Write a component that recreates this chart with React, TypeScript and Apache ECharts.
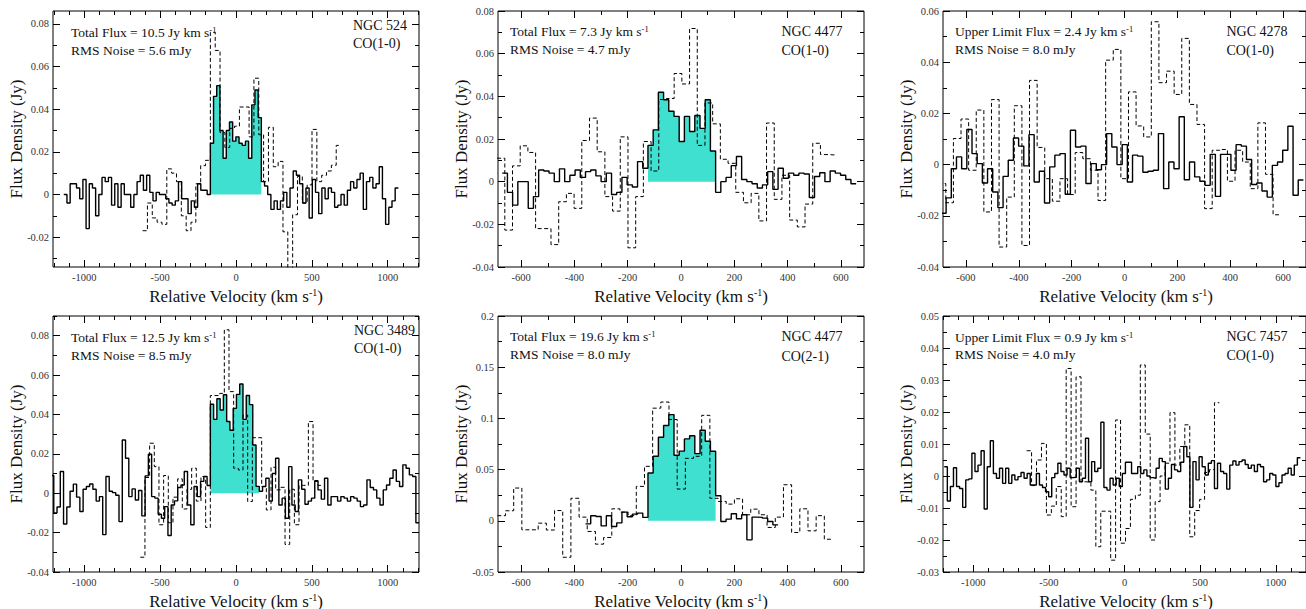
import React, { useEffect, useRef } from 'react';
import * as echarts from 'echarts';

const FONT = '"Liberation Serif", "Times New Roman", Times, serif';

// ---------- Panel 1: NGC 524 CO(1-0) ----------
const ngc524SolidStart = -1124.5;
const ngc524SolidWidth = 21;
const ngc524Solid = [
  0.000, -0.004, 0.005, 0.005, 0.003, -0.002, 0.007, -0.016, 0.005, 0.003, -0.010, 0.000, 0.008, 0.006, 0.008, -0.005,
  0.005, -0.006, 0.005, 0.000, 0.000, -0.006, 0.000, 0.006, 0.009, 0.002, 0.009, 0.001, -0.003, 0.001, 0.000, 0.000,
  -0.002, -0.004, -0.005, -0.003, 0.006, -0.002, -0.002, -0.009, -0.003, -0.006, 0.005, 0.002, 0.002, 0.000,
  0.024, 0.046, 0.051, 0.030, 0.017, 0.030, 0.034, 0.025, 0.027, 0.024, 0.023, 0.025, 0.017, 0.042, 0.049, 0.036,
  0.006, 0.004, 0.000, -0.007, -0.003, -0.007, -0.003, 0.001, -0.006, 0.003, 0.011, 0.009, 0.005, -0.004, 0.003,
  -0.011, 0.007, 0.001, -0.009, 0.003, -0.002, 0.003, 0.001, -0.006, -0.005, 0.000, -0.005, 0.002, 0.006, 0.003,
  0.007, 0.010, -0.007, 0.006, 0.008, 0.003, 0.005, 0.013, -0.002, -0.014, -0.006, -0.003, 0.003,
];
const ngc524DashStart = -599.6;
const ngc524DashWidth = 31.9;
const ngc524Dash = [
  -0.017, -0.004, -0.011, -0.013, -0.014, 0.012, 0.010, 0.006, -0.010, -0.017, -0.013, 0.005, 0.0135, 0.016,
  0.076, 0.0675, 0.029, 0.022, 0.031, 0.032, 0.041, 0.041, 0.027, 0.0545, 0.028, 0.006, 0.0315, 0.013, 0.0155,
  -0.0175, -0.036, -0.0095, 0.0085, -0.004, 0.0045, 0.0305, 0.006, 0.009, 0.011, 0.0137, 0.023,
];
const ngc524Window = [-169, 168];

// ---------- Panel 2: NGC 4477 CO(1-0) ----------
const ngc4477aSolidStart = -661.4;
const ngc4477aSolidWidth = 19.54;
const ngc4477aSolid = [
  0.004, -0.005, -0.011, 0.000, 0.000, -0.0125, -0.007, 0.0055, 0.005, 0.004, 0.000, 0.006, 0.000, 0.003,
  0.0055, 0.002, 0.0047, 0.0055, 0.0027, 0.000, 0.004, -0.006, -0.005, 0.002, -0.0015, -0.0025, 0.0094, 0.0063,
  0.017, 0.0243, 0.0419, 0.0384, 0.033, 0.0306, 0.0188, 0.0306, 0.0235, 0.031, 0.025, 0.0384, 0.0144,
  -0.005, 0.000, 0.002, 0.0075, 0.0118, 0.001, 0.000, -0.001, -0.003, -0.0015, 0.0047, -0.0036, 0.0063, 0.0016,
  0.004, 0.003, 0.004, 0.0036, -0.0074, 0.0024, 0.0042, 0.000, 0.005, 0.004, 0.003, 0.001, -0.001,
];
const ngc4477aDashStart = -675.9;
const ngc4477aDashWidth = 28.9;
const ngc4477aDash = [
  0.011, -0.0227, 0.0074, 0.0168, 0.0137, -0.022, -0.022, -0.0295, -0.0094, -0.0055, -0.0125, 0.0193, 0.0298,
  0.014, -0.007, -0.0138, 0.021, -0.031, -0.007, 0.0188, 0.005, 0.0385, 0.039, 0.0507, 0.0458, 0.0718, 0.017,
  0.0369, 0.0271, 0.0105, 0.0086, -0.005, -0.0099, -0.0055, -0.0184, 0.0275, -0.0083, 0.003, -0.018, -0.0212,
  -0.0105, 0.018, 0.0127, 0.0125,
];
const ngc4477aWindow = [-124, 130];

// ---------- Panel 3: NGC 4278 CO(1-0) ----------
const ngc4278SolidStart = -685;
const ngc4278SolidWidth = 19.6;
const ngc4278Solid = [
  -0.019, -0.013, -0.0016, 0.003, -0.0016, 0.0137, 0.0043, 0.0004, -0.0072, -0.0016, -0.0107, -0.0168, -0.0046,
  0.0017, 0.0104, 0.0072, -0.0005, 0.0117, -0.0068, -0.0026, -0.015, -0.0009, 0.0037, 0.0043, -0.0116, 0.0134,
  0.0069, 0.0072, -0.0074, 0.0004, -0.002, 0.0, 0.0121, 0.0069, 0.0, 0.0078, -0.0068, 0.0037, 0.0033, -0.003,
  -0.0026, -0.0022, 0.0121, -0.0094, 0.001, -0.0016, 0.0187, -0.0059, 0.001, -0.0048, -0.0065, -0.0081, 0.004,
  -0.0124, 0.004, 0.004, -0.0022, 0.0078, 0.0072, 0.002, -0.0078, -0.0072, -0.0103, -0.0127, -0.0003, 0.001,
  0.0056, 0.015, -0.012, -0.006,
];
const ngc4278DashStart = -690.8;
const ngc4278DashWidth = 28.81;
const ngc4278Dash = [
  -0.0074, -0.0149, 0.0102, 0.0178, -0.0022, 0.0213, -0.0185, 0.0254, -0.0322, -0.0127, 0.023, -0.0316, 0.0329,
  0.0067, -0.0055, -0.0143, -0.0055, -0.0117, 0.0047, 0.0023, -0.0022, -0.014, 0.0408, 0.045, -0.0055, 0.0284,
  0.0151, 0.0108, 0.0558, 0.032, 0.0365, 0.0274, 0.0493, 0.0235, 0.0157, -0.0172, 0.0056, 0.0059, -0.0065,
  0.0056, 0.001, -0.0094, 0.0163, -0.0038, -0.0196,
];

// ---------- Panel 4: NGC 3489 CO(1-0) ----------
const ngc3489SolidStart = -1211.75;
const ngc3489SolidWidth = 21.5;
const ngc3489Solid = [
  0.009, -0.010, -0.007, 0.011, -0.0156, -0.007, 0.001, 0.0046, -0.002, -0.0093, 0.002, 0.0034, 0.0047, 0.002,
  -0.004, -0.0017, -0.021, 0.0085, 0.001, 0.0003, -0.001, -0.0144, 0.027, 0.0178, -0.0017, 0.0022, -0.0034,
  0.0014, -0.0115, 0.0088, 0.0198, -0.0017, -0.0025, -0.0107, -0.0127, -0.0068, -0.0215, -0.006, -0.0039,
  0.0029, 0.0042, 0.011, -0.006, -0.016, 0.0034, -0.0017, 0.006, 0.0085, 0.0039,
  0.0452, 0.0375, 0.048, 0.0423, 0.050, 0.0364, 0.032, 0.0431, 0.0502, 0.0555, 0.0375, 0.0496, 0.045, 0.0245, 0.0035,
  0.001, 0.0034, 0.0076, -0.004, 0.010, 0.0178, -0.006, -0.0025, -0.0127, 0.0135, -0.006, -0.0093, 0.0068, 0.002,
  -0.0056, -0.004, -0.0025, 0.0063, 0.0017, -0.003, 0.0076, -0.006, -0.0017, -0.0017, -0.004, -0.0017, -0.0025,
  -0.004, -0.0017, -0.0025, -0.004, -0.0068, -0.006, 0.0068, 0.0029, 0.0017, -0.0025, -0.006, 0.0017, 0.0042,
  0.0076, 0.0118, 0.006, 0.0034, 0.0144, 0.0127, 0.0093, 0.0085, -0.015,
];
const ngc3489DashStart = -615.4;
const ngc3489DashWidth = 30.77;
const ngc3489Dash = [
  -0.0325, 0.008, 0.0254, 0.0135, -0.016, 0.009, -0.015, -0.002, 0.0073, -0.008, 0.002, 0.0127, -0.004, 0.0085,
  -0.0174, 0.0496, 0.0496, 0.0507, 0.083, 0.0516, 0.0127, 0.0118, 0.0397, -0.0042, 0.0282, 0.0282, 0.0034,
  -0.0085, 0.0132, 0.0017, 0.003, -0.026, 0.002, -0.016, 0.004, 0.004, 0.0364, 0.006, 0.004,
];
const ngc3489Window = [-169, 154];

// ---------- Panel 5: NGC 4477 CO(2-1) ----------
const ngc4477bSolidStart = -348.7;
const ngc4477bSolidWidth = 19.54;
const ngc4477bSolid = [
  -0.003, 0.005, 0.0042, -0.005, 0.005, -0.0055, -0.002, 0.0085, 0.004, 0.0065, 0.0075, 0.0033,
  0.0467, 0.063, 0.0816, 0.093, 0.1037, 0.064, 0.068, 0.080, 0.083, 0.0656, 0.0884, 0.0777, 0.0679,
  0.0245, -0.0007, 0.0016, 0.0069, 0.002, 0.0059, -0.0186, 0.0036, 0.0033, 0.0026, -0.0007, -0.004,
];
const ngc4477bDashStart = -674.2;
const ngc4477bDashWidth = 30.69;
const ngc4477bDash = [
  0.005, 0.0098, 0.032, -0.0088, -0.0088, -0.0023, -0.009, 0.010, -0.0356, 0.022, 0.0036, -0.0104, -0.0228,
  -0.0163, 0.0117, 0.0085, 0.005, 0.0336, 0.0532, 0.110, 0.116, 0.0989, 0.031, 0.061, 0.063, 0.103, 0.022,
  0.0189, 0.0163, 0.0215, 0.0059, 0.0114, 0.0059, -0.0065, 0.0036, 0.0352, -0.0114, 0.0117, -0.0098, 0.005, -0.018,
];
const ngc4477bWindow = [-124, 130];

// ---------- Panel 6: NGC 7457 CO(1-0) ----------
const ngc7457SolidStart = -1181.5;
const ngc7457SolidWidth = 20.3;
const ngc7457Solid = [
  0.0029, -0.0078, -0.0033, 0.0026, -0.0033, -0.0039, -0.0098, -0.0012, -0.0009, 0.0071, 0.0014, 0.0034, 0.0079,
  -0.0103, 0.0029, 0.011, 0.0008, -0.0007, 0.0024, -0.0023, 0.0024, -0.0023, 0.0003, -0.0012, -0.0002, 0.0011,
  -0.0007, 0.0008, -0.0028, -0.0028, 0.0008, -0.0028, -0.0036, -0.0049, -0.0065, -0.0005, 0.0008, 0.004, 0.0014,
  0.0003, 0.0024, -0.0005, -0.0004, 0.0024, -0.0018, -0.0007, 0.0118, -0.0018, 0.0045, 0.0014, 0.0024, 0.0168,
  -0.0036, -0.0044, -0.0007, -0.0028, -0.0007, -0.0033, 0.0008, 0.0043, 0.0043, 0.0008, 0.0008, 0.0029, 0.0008,
  0.0019, 0.0, -0.0005, -0.0007, 0.0024, 0.0055, 0.0045, -0.0041, -0.0007, 0.0036, 0.0019, 0.0014, 0.0043, 0.0092,
  0.006, -0.0098, 0.0045, -0.0012, 0.006, 0.0029, 0.0003, 0.004, 0.0048, -0.0039, 0.004, 0.0014, 0.0008, -0.0041,
  0.0034, 0.0047, 0.0034, 0.0045, 0.005, 0.0036, 0.0024, 0.0034, 0.0014, 0.0036, 0.0029, -0.0018, -0.0012, 0.0008,
  0.0003, -0.0033, -0.0021, 0.0003, 0.0008, 0.0024, 0.0003, 0.0034, 0.0057,
];
const ngc7457DashStart = -630.7;
const ngc7457DashWidth = 32.68;
const ngc7457Dash = [
  0.0079, -0.003, 0.005, 0.0102, -0.0122, -0.0094, -0.0033, -0.0127, 0.0336, -0.0096, 0.031, -0.0018, -0.002,
  -0.0044, -0.0221, -0.011, -0.011, -0.0263, 0.0175, -0.021, -0.0164, -0.0073, -0.006, 0.0347, 0.0131, -0.02,
  -0.008, 0.0, 0.004, 0.0198, 0.0034, 0.0092, 0.016, -0.019, -0.0108, -0.0073, 0.0011, 0.002, 0.0229,
];

// ---------- tick labels ----------
const xTicksWide = [-1000, -500, 0, 500, 1000];
const xTicksNarrow = [-600, -400, -200, 0, 200, 400, 600];
const yTicks524 = [-0.02, 0, 0.02, 0.04, 0.06, 0.08];
const yTicks4477a = [-0.04, -0.02, 0, 0.02, 0.04, 0.06, 0.08];
const yTicks4278 = [-0.04, -0.02, 0, 0.02, 0.04, 0.06];
const yTicks3489 = [-0.04, -0.02, 0, 0.02, 0.04, 0.06, 0.08];
const yTicks4477b = [-0.05, 0, 0.05, 0.1, 0.15, 0.2];
const yTicks7457 = [-0.03, -0.02, -0.01, 0, 0.01, 0.02, 0.03, 0.04, 0.05];

// ---------- texts ----------
const fluxTexts = [
  'Total Flux = 10.5 Jy km s', 'Total Flux = 7.3 Jy km s', 'Upper Limit Flux = 2.4 Jy km s',
  'Total Flux = 12.5 Jy km s', 'Total Flux = 19.6 Jy km s', 'Upper Limit Flux = 0.9 Jy km s',
];
const rmsTexts = [
  'RMS Noise = 5.6 mJy', 'RMS Noise = 4.7 mJy', 'RMS Noise = 8.0 mJy',
  'RMS Noise = 8.5 mJy', 'RMS Noise = 8.0 mJy', 'RMS Noise = 4.0 mJy',
];
const galaxyNames = ['NGC 524', 'NGC 4477', 'NGC 4278', 'NGC 3489', 'NGC 4477', 'NGC 7457'];
const lineNames = ['CO(1-0)', 'CO(1-0)', 'CO(1-0)', 'CO(1-0)', 'CO(2-1)', 'CO(1-0)'];

type Panel = {
  left: number; top: number; width: number; height: number;
  x: number[]; y: number[];
  xMajor: number[]; xMinorStep: number; yMajor: number[]; yMinorStep: number;
  solid: { start: number; width: number; vals: number[] };
  dash: { start: number; width: number; vals: number[] };
  window?: number[];
  txt: { fx: number; fy: number; ry: number; nx: number; ny: number; cy: number };
};

const panels: Panel[] = [
  {
    left: 53, top: 11, width: 366, height: 256, x: [-1206, 1206], y: [-0.034, 0.086],
    xMajor: xTicksWide, xMinorStep: 100, yMajor: yTicks524, yMinorStep: 0.01,
    solid: { start: ngc524SolidStart, width: ngc524SolidWidth, vals: ngc524Solid },
    dash: { start: ngc524DashStart, width: ngc524DashWidth, vals: ngc524Dash }, window: ngc524Window,
    txt: { fx: 71, fy: 32, ry: 50.5, nx: 353, ny: 25, cy: 43.5 },
  },
  {
    left: 498, top: 11, width: 366, height: 256, x: [-687, 687], y: [-0.04, 0.08],
    xMajor: xTicksNarrow, xMinorStep: 100, yMajor: yTicks4477a, yMinorStep: 0.01,
    solid: { start: ngc4477aSolidStart, width: ngc4477aSolidWidth, vals: ngc4477aSolid },
    dash: { start: ngc4477aDashStart, width: ngc4477aDashWidth, vals: ngc4477aDash }, window: ngc4477aWindow,
    txt: { fx: 510, fy: 31, ry: 49.5, nx: 781.5, ny: 31, cy: 50 },
  },
  {
    left: 943, top: 11, width: 366, height: 256, x: [-687, 687], y: [-0.04, 0.06],
    xMajor: xTicksNarrow, xMinorStep: 100, yMajor: yTicks4278, yMinorStep: 0.01,
    solid: { start: ngc4278SolidStart, width: ngc4278SolidWidth, vals: ngc4278Solid },
    dash: { start: ngc4278DashStart, width: ngc4278DashWidth, vals: ngc4278Dash },
    txt: { fx: 955, fy: 31.5, ry: 49.5, nx: 1226.5, ny: 31, cy: 50 },
  },
  {
    left: 53, top: 316, width: 366, height: 256, x: [-1206, 1206], y: [-0.04, 0.09],
    xMajor: xTicksWide, xMinorStep: 100, yMajor: yTicks3489, yMinorStep: 0.01,
    solid: { start: ngc3489SolidStart, width: ngc3489SolidWidth, vals: ngc3489Solid },
    dash: { start: ngc3489DashStart, width: ngc3489DashWidth, vals: ngc3489Dash }, window: ngc3489Window,
    txt: { fx: 71, fy: 337, ry: 355.5, nx: 354, ny: 330, cy: 348.5 },
  },
  {
    left: 498, top: 316, width: 366, height: 256, x: [-687, 687], y: [-0.05, 0.2],
    xMajor: xTicksNarrow, xMinorStep: 100, yMajor: yTicks4477b, yMinorStep: 0.025,
    solid: { start: ngc4477bSolidStart, width: ngc4477bSolidWidth, vals: ngc4477bSolid },
    dash: { start: ngc4477bDashStart, width: ngc4477bDashWidth, vals: ngc4477bDash }, window: ngc4477bWindow,
    txt: { fx: 510, fy: 336, ry: 354.5, nx: 781.5, ny: 336, cy: 356.5 },
  },
  {
    left: 943, top: 316, width: 366, height: 256, x: [-1200, 1200], y: [-0.03, 0.05],
    xMajor: xTicksWide, xMinorStep: 100, yMajor: yTicks7457, yMinorStep: 0.005,
    solid: { start: ngc7457SolidStart, width: ngc7457SolidWidth, vals: ngc7457Solid },
    dash: { start: ngc7457DashStart, width: ngc7457DashWidth, vals: ngc7457Dash },
    txt: { fx: 955, fy: 337, ry: 354.5, nx: 1226.5, ny: 336, cy: 355 },
  },
];

function tickRange(min: number, max: number, step: number): number[] {
  const out: number[] = [];
  const a = Math.ceil(min / step - 1e-9);
  const b = Math.floor(max / step + 1e-9);
  for (let i = a; i <= b; i++) out.push(+(i * step).toFixed(6));
  return out;
}

function stepPoints(start: number, width: number, vals: number[], win?: number[]): number[][] {
  const pts: number[][] = [];
  vals.forEach((v, i) => {
    const c = start + i * width;
    if (win && (c < win[0] || c > win[1])) return;
    pts.push([c - width / 2, v], [c + width / 2, v]);
  });
  return pts;
}

const fmt = (v: number) => String(parseFloat(Number(v).toFixed(4)));

function buildOption() {
  const grid: any[] = [];
  const xAxis: any[] = [];
  const yAxis: any[] = [];
  const series: any[] = [];
  const graphic: any[] = [];

  panels.forEach((p, k) => {
    grid.push({
      left: p.left, top: p.top, width: p.width, height: p.height,
      show: true, borderColor: '#000', borderWidth: 1, backgroundColor: 'transparent', containLabel: false,
    });
    const xMinor = tickRange(p.x[0], p.x[1], p.xMinorStep);
    const yMinor = tickRange(p.y[0], p.y[1], p.yMinorStep);
    const axisBase = (pos: string, vals: number[], len: number, labels: boolean, dim: 'x' | 'y') => ({
      type: 'value', gridIndex: k, position: pos,
      min: dim === 'x' ? p.x[0] : p.y[0], max: dim === 'x' ? p.x[1] : p.y[1],
      axisLine: { show: false, onZero: false }, splitLine: { show: false },
      axisTick: { show: true, inside: true, length: len, customValues: vals, lineStyle: { color: '#000', width: 1 } },
      axisLabel: labels
        ? { show: true, customValues: vals, formatter: fmt, margin: dim === 'x' ? 5 : 4, fontFamily: FONT, fontSize: 10.5, color: '#333' }
        : { show: false },
    });
    xAxis.push(axisBase('bottom', p.xMajor, 7, true, 'x'));
    xAxis.push(axisBase('bottom', xMinor, 4, false, 'x'));
    xAxis.push(axisBase('top', p.xMajor, 7, false, 'x'));
    xAxis.push(axisBase('top', xMinor, 4, false, 'x'));
    yAxis.push(axisBase('left', p.yMajor, 7, true, 'y'));
    yAxis.push(axisBase('left', yMinor, 4, false, 'y'));
    yAxis.push(axisBase('right', p.yMajor, 7, false, 'y'));
    yAxis.push(axisBase('right', yMinor, 4, false, 'y'));

    const ai = 4 * k;
    if (p.window) {
      series.push({
        type: 'line', xAxisIndex: ai, yAxisIndex: ai, symbol: 'none', z: 1,
        data: stepPoints(p.solid.start, p.solid.width, p.solid.vals, p.window),
        lineStyle: { width: 0, opacity: 0 }, areaStyle: { color: '#40E0D0', opacity: 1 },
        silent: true,
      });
    }
    series.push({
      type: 'line', xAxisIndex: ai, yAxisIndex: ai, symbol: 'none', z: 2,
      data: stepPoints(p.dash.start, p.dash.width, p.dash.vals),
      lineStyle: { color: '#000', width: 1, type: [4, 2.5] }, silent: true,
    });
    series.push({
      type: 'line', xAxisIndex: ai, yAxisIndex: ai, symbol: 'none', z: 3,
      data: stepPoints(p.solid.start, p.solid.width, p.solid.vals),
      lineStyle: { color: '#000', width: 1.4 }, silent: true,
    });

    const t = p.txt;
    const mainFont = { fontSize: 13.5, fontFamily: FONT, fill: '#111' };
    graphic.push({
      type: 'text', x: t.fx, y: t.fy, z: 100,
      style: {
        text: `{a|${fluxTexts[k]}}{s|-1}`,
        rich: { a: { ...mainFont }, s: { fontSize: 8.5, fontFamily: FONT, fill: '#111', verticalAlign: 'top' } },
        align: 'left', textAlign: 'left', verticalAlign: 'middle', textVerticalAlign: 'middle',
      },
    });
    graphic.push({
      type: 'text', x: t.fx, y: t.ry, z: 100,
      style: { text: rmsTexts[k], ...mainFont, align: 'left', textAlign: 'left', verticalAlign: 'middle', textVerticalAlign: 'middle' },
    });
    graphic.push({
      type: 'text', x: t.nx, y: t.ny, z: 100,
      style: { text: galaxyNames[k], fontSize: 14, fontFamily: FONT, fill: '#111', align: 'left', textAlign: 'left', verticalAlign: 'middle', textVerticalAlign: 'middle' },
    });
    graphic.push({
      type: 'text', x: t.nx, y: t.cy, z: 100,
      style: { text: lineNames[k], fontSize: 14, fontFamily: FONT, fill: '#111', align: 'left', textAlign: 'left', verticalAlign: 'middle', textVerticalAlign: 'middle' },
    });
    graphic.push({
      type: 'text', x: p.left + p.width / 2, y: p.top + p.height + 29, z: 100,
      style: {
        text: '{a|Relative Velocity (km s}{s|-1}{a|)}',
        rich: { a: { fontSize: 17, fontFamily: FONT, fill: '#111' }, s: { fontSize: 10, fontFamily: FONT, fill: '#111', verticalAlign: 'top' } },
        align: 'center', textAlign: 'center', verticalAlign: 'middle', textVerticalAlign: 'middle',
      },
    });
    graphic.push({
      type: 'text', x: p.left - 36.5, y: p.top + p.height / 2, rotation: Math.PI / 2, z: 100,
      style: { text: 'Flux Density (Jy)', fontSize: 17, fontFamily: FONT, fill: '#111', align: 'center', textAlign: 'center', verticalAlign: 'middle', textVerticalAlign: 'middle' },
    });
  });

  return { animation: false, backgroundColor: '#fff', grid, xAxis, yAxis, series, graphic };
}

export default function App() {
  const ref = useRef<HTMLDivElement>(null);
  useEffect(() => {
    if (!ref.current) return;
    const chart = echarts.init(ref.current, undefined, { renderer: 'svg' });
    chart.setOption(buildOption() as any);
    return () => chart.dispose();
  }, []);
  return <div ref={ref} style={{ position: 'absolute', left: 0, top: 0, width: 1306, height: 609 }} />;
}
